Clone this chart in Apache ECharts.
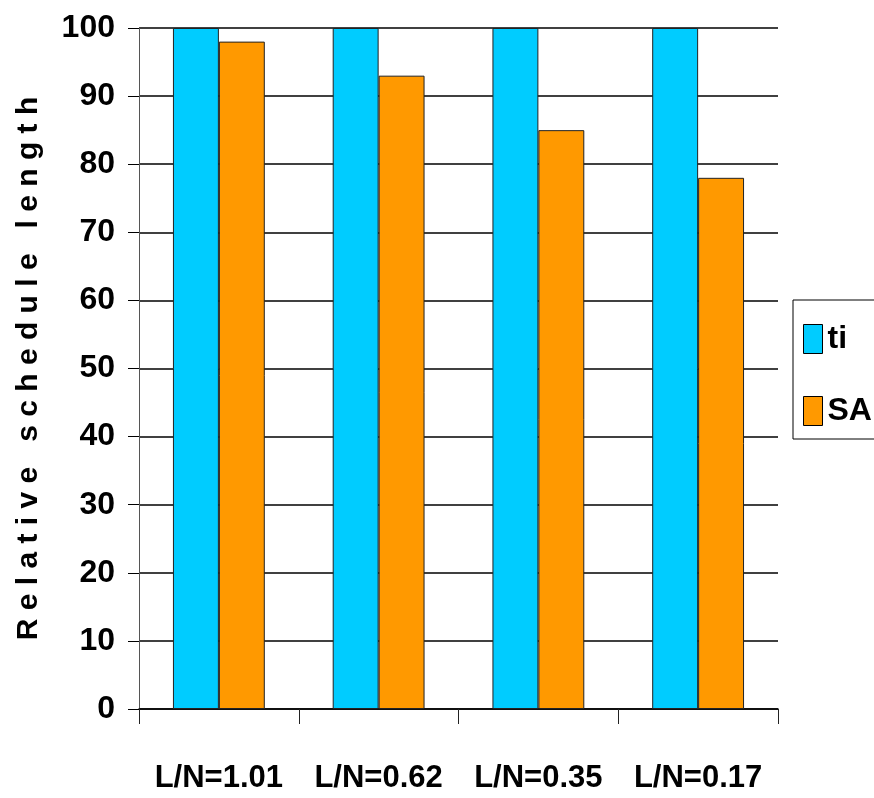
<!DOCTYPE html>
<html>
<head>
<meta charset="utf-8">
<script src="https://cdn.jsdelivr.net/npm/echarts@6/dist/echarts.min.js"></script>
<style>
  html, body { margin: 0; padding: 0; background: #fff; }
  #main { width: 874px; height: 798px; }
</style>
</head>
<body>
<div id="main"></div>
<script>
// 横轴分类
const categories = ['L/N=1.01', 'L/N=0.62', 'L/N=0.35', 'L/N=0.17']
// 两组数据
const tiValues = [100, 100, 100, 100]
const saValues = [98, 93, 85, 78]
const seriesNames = ['ti', 'SA']
// y 轴刻度
const yTicks = [0, 10, 20, 30, 40, 50, 60, 70, 80, 90, 100]

const font = '"Liberation Sans", Arial, sans-serif'
const chart = echarts.init(document.getElementById('main'))

const option = {
    animation: false,
    backgroundColor: '#fff',
    grid: {
        left: 139,
        right: 96,
        top: 28,
        bottom: 89,
        containLabel: false,
        outerBoundsMode: 'none',
    },
    legend: {
        orient: 'vertical',
        left: 793,
        top: 300,
        width: 120,
        padding: [23, 60, 12, 10],
        itemGap: 40,
        itemWidth: 19,
        itemHeight: 29,
        icon: 'rect',
        borderColor: '#000',
        borderWidth: 1,
        itemStyle: { borderColor: '#000', borderWidth: 1 },
        textStyle: {
            fontFamily: font,
            fontWeight: 'bold',
            fontSize: 32,
            lineHeight: 29,
            color: '#000',
        },
        data: seriesNames,
    },
    xAxis: {
        type: 'category',
        data: categories,
        boundaryGap: true,
        axisLine: { lineStyle: { color: '#000', width: 1.5 } },
        axisTick: { show: true, interval: 0, length: 15, lineStyle: { color: '#222' } },
        axisLabel: {
            interval: 0,
            margin: 54,
            fontFamily: font,
            fontWeight: 'bold',
            fontSize: 31,
            color: '#000',
        },
    },
    yAxis: {
        type: 'value',
        min: yTicks[0],
        max: yTicks[yTicks.length - 1],
        interval: 10,
        name: 'R e l a t i v e   s c h e d u l e   l e n g t h',
        nameLocation: 'middle',
        nameRotate: 90,
        nameGap: 95,
        nameTextStyle: {
            fontFamily: font,
            fontWeight: 'bold',
            fontSize: 30,
            color: '#000',
        },
        axisLine: { show: true, lineStyle: { color: '#555', width: 1 } },
        axisTick: { show: true, length: 11, lineStyle: { color: '#000' } },
        splitLine: { show: true, lineStyle: { color: '#000', width: 1.5 } },
        axisLabel: {
            margin: 24,
            fontFamily: font,
            fontWeight: 'bold',
            fontSize: 32,
            color: '#000',
        },
    },
    series: [
        {
            name: seriesNames[0],
            type: 'bar',
            data: tiValues,
            barGap: '0%',
            barCategoryGap: '42.5%',
            itemStyle: { color: '#00CCFF', borderColor: '#222', borderWidth: 1 },
        },
        {
            name: seriesNames[1],
            type: 'bar',
            data: saValues,
            itemStyle: { color: '#FF9900', borderColor: '#222', borderWidth: 1 },
        },
    ],
}
chart.setOption(option)
</script>
</body>
</html>
